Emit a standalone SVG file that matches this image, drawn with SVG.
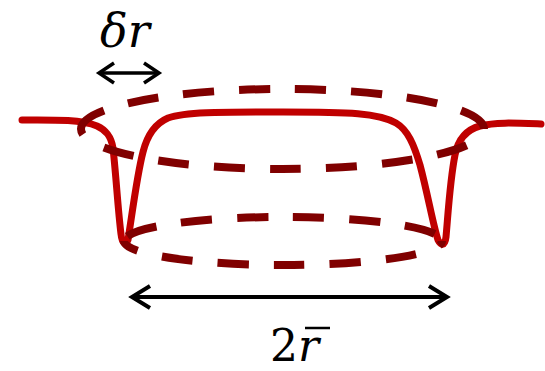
<svg xmlns="http://www.w3.org/2000/svg" width="545" height="371" viewBox="0 0 545 371">
<style>
.red{fill:none;stroke:#C00000;stroke-width:7;stroke-linejoin:round;stroke-linecap:round}
.ell{fill:none;stroke:#800000;stroke-width:8;stroke-dasharray:31 25}
.arr{fill:none;stroke:#000;stroke-linecap:butt;stroke-linejoin:miter}
.txt{font-family:"DejaVu Serif","Liberation Serif",serif;fill:#000}
</style>
<g id="profile">
<path class="red" d="M22,120 C50,120 80,119 97,126 C106,130 111,136 113,148 C116,175 118,210 121,234 C122,244 126,246 128,240 C132,215 137,175 143,152 C147,136 154,124 168,118 C185,112 215,112 283,112 C350,112 378,113 396,123 C408,130 414,145 420,165 C428,195 433,225 438,240 C441,246 445,246 446,237 C448,215 450,180 455,155 C458,140 465,130 480,126 C495,122 515,123 541,124"/>
</g>
<g id="upper-ellipse">
<path class="ell" d="M81,129 A201.5,40 0 0 1 484,129 A201.5,40 0 0 1 81,129"/>
</g>
<g id="lower-ellipse">
<path class="ell" style="stroke-dashoffset:49.9" d="M124,241 A159,24 0 0 1 442,241"/>
<path class="ell" style="stroke-dashoffset:13.4" d="M124,241 A159,24 0 0 0 442,241"/>
</g>
<g id="connectors">
<g id="dr-arrow" class="arr" stroke-width="3.5">
<line x1="99" y1="73" x2="159" y2="73"/>
<polyline points="114,63 99,73 114,83"/>
<polyline points="144,63 159,73 144,83"/>
</g>
<g id="diam-arrow" class="arr" stroke-width="4">
<line x1="132" y1="297" x2="447" y2="297"/>
<polyline points="150,286 132,297 150,308"/>
<polyline points="429,286 447,297 429,308"/>
</g>
</g>
<g id="label-dr">
<text class="txt" x="100" y="47" font-style="italic" font-size="46">δr</text>
</g>
<g id="label-2r">
<text class="txt" x="270" y="361" font-size="44">2<tspan font-style="italic">r</tspan></text>
<line x1="305" y1="328" x2="330" y2="328" stroke="#000" stroke-width="2.5"/>
</g>
</svg>
